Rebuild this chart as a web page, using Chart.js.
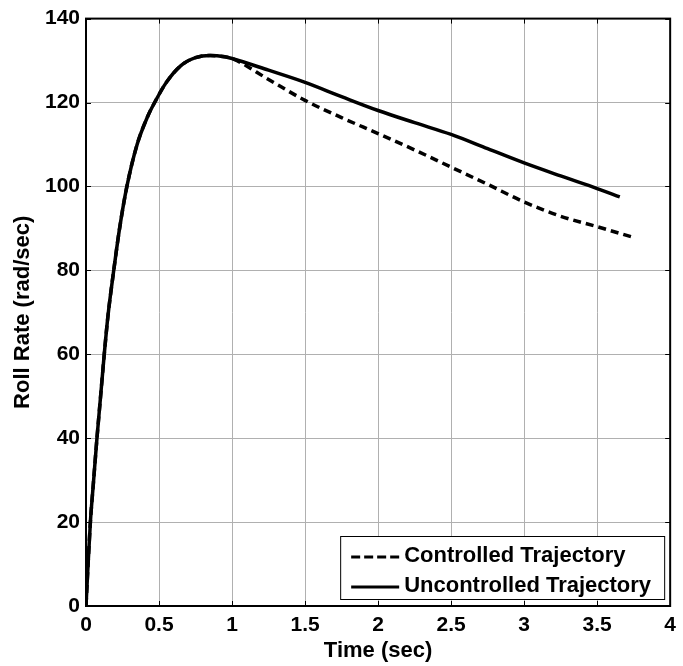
<!DOCTYPE html>
<html>
<head>
<meta charset="utf-8">
<script src="https://cdn.jsdelivr.net/npm/chart.js@4/dist/chart.umd.min.js"></script>
<style>
  html, body { margin: 0; padding: 0; background: #fff; }
  #wrap { width: 683px; height: 666px; }
</style>
</head>
<body>
<div id="wrap"><canvas id="roll-chart" width="683" height="666"></canvas></div>
<script>
// time samples (sec) and roll rate (rad/sec)
const timeShared = [0, 0.01, 0.03, 0.05, 0.075, 0.1, 0.125, 0.15, 0.19, 0.23, 0.28, 0.35, 0.42, 0.47, 0.55, 0.65, 0.75, 0.85, 0.95, 1.0];
const rateShared = [0, 7, 20, 29, 40, 50, 60, 69, 80, 90, 100, 110, 116.5, 120, 124.8, 128.8, 130.7, 131.2, 130.9, 130.5];

const timeCtrl = [1.25, 1.5, 1.75, 2.0, 2.25, 2.5, 2.75, 3.0, 3.25, 3.5, 3.735];
const rateCtrl = [125.5, 120.5, 116.4, 112.6, 108.7, 104.6, 100.5, 96.3, 92.9, 90.4, 88.0];

const timeUnctrl = [1.25, 1.5, 1.75, 2.0, 2.25, 2.5, 2.75, 3.0, 3.25, 3.5, 3.655];
const rateUnctrl = [127.7, 124.8, 121.4, 118.1, 115.2, 112.4, 109.0, 105.6, 102.5, 99.5, 97.5];

const xTicks = [0, 0.5, 1, 1.5, 2, 2.5, 3, 3.5, 4];
const yTicks = [0, 20, 40, 60, 80, 100, 120, 140];

function toPoints(ts, vs) {
  return ts.map((t, i) => ({ x: t, y: vs[i] }));
}

const FONT = "'Liberation Sans', Arial, sans-serif";

// black frame round the plot area, with short inward tick marks
const boxPlugin = {
  id: "box",
  afterDatasetsDraw(chart) {
    const { ctx, chartArea: a, scales } = chart;
    ctx.save();
    ctx.strokeStyle = "#000";
    ctx.lineWidth = 1;
    ctx.beginPath();
    scales.x.ticks.forEach((t) => {
      const px = Math.round(scales.x.getPixelForValue(t.value)) + 0.5;
      ctx.moveTo(px, a.bottom); ctx.lineTo(px, a.bottom - 5);
      ctx.moveTo(px, a.top); ctx.lineTo(px, a.top + 5);
    });
    scales.y.ticks.forEach((t) => {
      const py = Math.round(scales.y.getPixelForValue(t.value)) + 0.5;
      ctx.moveTo(a.left, py); ctx.lineTo(a.left + 5, py);
      ctx.moveTo(a.right, py); ctx.lineTo(a.right - 5, py);
    });
    ctx.stroke();
    ctx.lineWidth = 2;
    ctx.strokeRect(a.left, a.top, a.right - a.left, a.bottom - a.top);
    ctx.restore();
  }
};

// legend box in the lower right corner of the plot
const legendBoxPlugin = {
  id: "legendBox",
  afterDraw(chart) {
    const { ctx, chartArea: a } = chart;
    const w = 324, h = 63;
    const x0 = a.right - 6 - w, y0 = a.bottom - 7 - h;
    ctx.save();
    ctx.fillStyle = "#fff";
    ctx.fillRect(x0, y0, w, h);
    ctx.strokeStyle = "#000";
    ctx.lineWidth = 1;
    ctx.strokeRect(x0 + 0.5, y0 + 0.5, w, h);
    ctx.font = "bold 22px " + FONT;
    ctx.textBaseline = "middle";
    ctx.fillStyle = "#000";
    chart.data.datasets.forEach((ds, i) => {
      const cy = y0 + 19 + i * 30;
      ctx.beginPath();
      ctx.lineWidth = 3;
      ctx.setLineDash(ds.borderDash ? [9, 4] : []);
      ctx.moveTo(x0 + 11, cy + 2);
      ctx.lineTo(x0 + 59, cy + 2);
      ctx.stroke();
      ctx.setLineDash([]);
      ctx.fillText(ds.label, x0 + 64, cy + 1);
    });
    ctx.restore();
  }
};

const ctx = document.getElementById("roll-chart").getContext("2d");

new Chart(ctx, {
  type: "scatter",
  data: {
    datasets: [
      {
        label: "Controlled Trajectory",
        data: toPoints(timeShared.concat(timeCtrl), rateShared.concat(rateCtrl)),
        showLine: true,
        borderColor: "#000",
        borderWidth: 3.5,
        borderDash: [8, 5],
        pointRadius: 0,
        cubicInterpolationMode: "monotone"
      },
      {
        label: "Uncontrolled Trajectory",
        data: toPoints(timeShared.concat(timeUnctrl), rateShared.concat(rateUnctrl)),
        showLine: true,
        borderColor: "#000",
        borderWidth: 3.5,
        pointRadius: 0,
        cubicInterpolationMode: "monotone"
      }
    ]
  },
  options: {
    responsive: false,
    animation: false,
    layout: { padding: { top: 16, right: 10, left: 0, bottom: 0 } },
    plugins: {
      legend: { display: false },
      tooltip: { enabled: false }
    },
    scales: {
      x: {
        type: "linear",
        min: 0,
        max: 4,
        afterBuildTicks: (s) => { s.ticks = xTicks.map((v) => ({ value: v })); },
        afterFit: (s) => { s.height = 60; },
        grid: { color: "#b0b0b0", lineWidth: 1, drawTicks: false },
        border: { display: false },
        ticks: {
          color: "#000",
          padding: 7,
          maxRotation: 0,
          font: { family: FONT, size: 21, weight: "bold" },
          callback: (v) => String(v)
        },
        title: {
          display: true,
          text: "Time (sec)",
          color: "#000",
          padding: { top: 0, bottom: 2 },
          font: { family: FONT, size: 22, weight: "bold" }
        }
      },
      y: {
        type: "linear",
        min: 0,
        max: 140,
        afterBuildTicks: (s) => { s.ticks = yTicks.map((v) => ({ value: v })); },
        afterFit: (s) => { s.width = 86; },
        grid: { color: "#b0b0b0", lineWidth: 1, drawTicks: false },
        border: { display: false },
        ticks: {
          color: "#000",
          padding: 6,
          font: { family: FONT, size: 21, weight: "bold" },
          callback: (v) => String(v)
        },
        title: {
          display: true,
          text: "Roll Rate (rad/sec)",
          color: "#000",
          padding: { top: 10, bottom: 0 },
          font: { family: FONT, size: 22, weight: "bold" }
        }
      }
    }
  },
  plugins: [boxPlugin, legendBoxPlugin]
});
</script>
</body>
</html>
